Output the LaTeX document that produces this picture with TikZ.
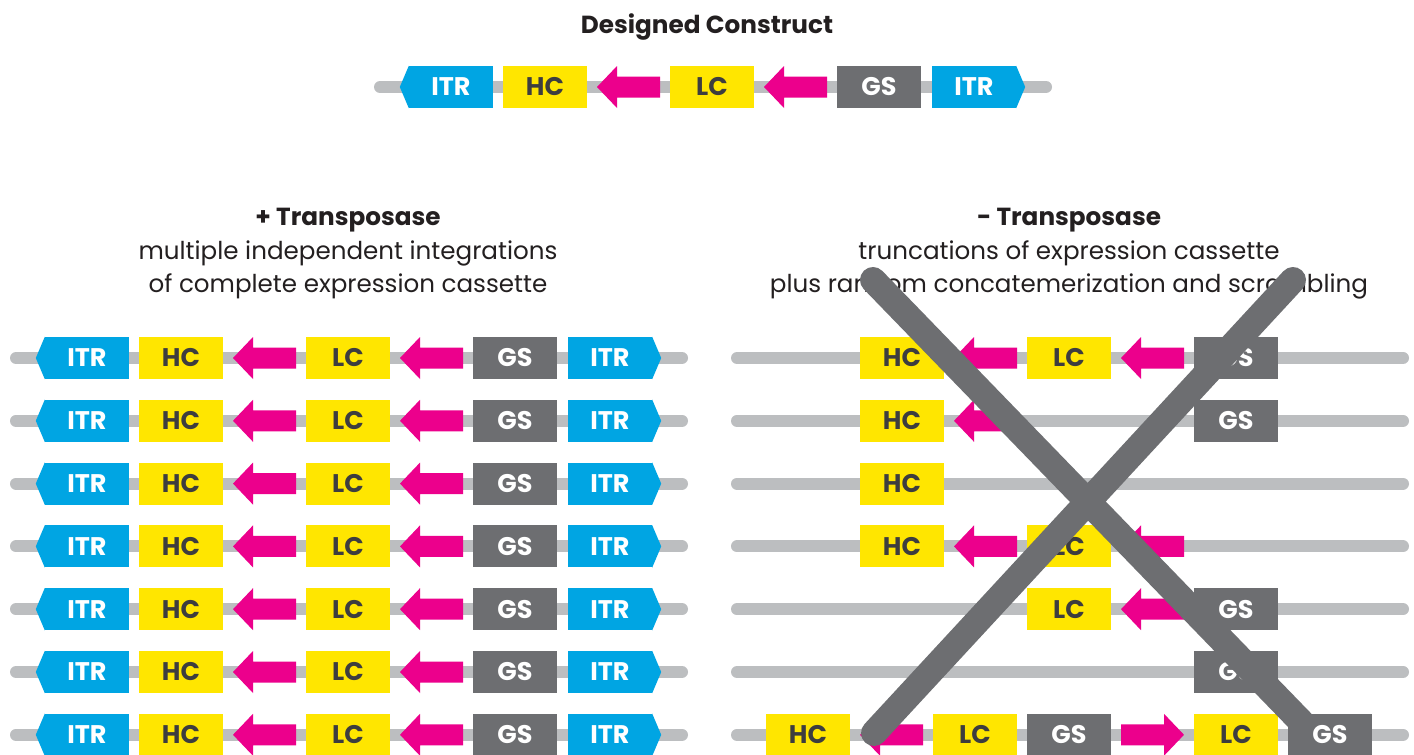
\documentclass[tikz,border=0pt]{standalone}
\usepackage{fontspec}
\setmainfont{Poppins}
\usetikzlibrary{calc}
\definecolor{itrblue}{HTML}{00A5E3}
\definecolor{hcyellow}{HTML}{FFE600}
\definecolor{arrowpink}{HTML}{EC008C}
\definecolor{gsgray}{HTML}{6D6E71}
\definecolor{linegray}{HTML}{BCBEC0}
\definecolor{labeldark}{HTML}{3D3D3F}
\definecolor{txt}{HTML}{231F20}
\tikzset{
 dna/.style={linegray, line width=12pt, line cap=round},
 box/.style={minimum width=84pt, minimum height=42pt, inner sep=0pt, font=\fontsize{25.5}{25.5}\selectfont\bfseries},
 hcbox/.style={box, fill=hcyellow, text=labeldark},
 gsbox/.style={box, fill=gsgray, text=white},
 itrbox/.style={box, fill=itrblue, text=white},
 pics/larrow/.style={code={\fill[arrowpink] (-31.5,0) -- (-11.5,21) -- (-11.5,10.5) -- (31.5,10.5) -- (31.5,-10.5) -- (-11.5,-10.5) -- (-11.5,-21) -- cycle;}},
 pics/rarrow/.style={code={\fill[arrowpink] (31.5,0) -- (11.5,21) -- (11.5,10.5) -- (-31.5,10.5) -- (-31.5,-10.5) -- (11.5,-10.5) -- (11.5,-21) -- cycle;}},
 cross/.style={gsgray, line width=26pt, line cap=round},
 headtxt/.style={font=\fontsize{24.7}{24.7}\selectfont\bfseries, text=txt},
 subtxt/.style={font=\fontsize{24.6}{33}\selectfont, text=txt, align=center},
}
\newcommand\fullrow[3]{%
 \coordinate (#3-a) at (#1+16,#2);
 \coordinate (#3-b) at (#1+682,#2);
 \draw[dna] (#3-a) -- (#3-b);
 \node[itrbox] (#3-itrl) at (#1+87,#2) {ITR};
 \fill[itrblue] (#3-itrl.north west) -- ($(#3-itrl.west)+(-9,0)$) -- (#3-itrl.south west) -- cycle;
 \node[hcbox] (#3-hc) at (#1+181,#2) {HC};
 \pic at (#1+264.5,#2) {larrow};
 \node[hcbox] (#3-lc) at (#1+348,#2) {LC};
 \pic at (#1+431.5,#2) {larrow};
 \node[gsbox] (#3-gs) at (#1+515,#2) {GS};
 \node[itrbox] (#3-itrr) at (#1+610,#2) {ITR};
 \fill[itrblue] (#3-itrr.north east) -- ($(#3-itrr.east)+(9,0)$) -- (#3-itrr.south east) -- cycle;
}
\begin{document}
\begin{tikzpicture}[x=1pt,y=-1pt]
\useasboundingbox (0,0) rectangle (1414,755);
\fill[white] (0,0) rectangle (1414,755);
% titles
\node[headtxt] (title) at (707,27) {Designed Construct};
\node[headtxt] (plus) at (348,220) {+ Transposase};
\node[subtxt] (plussub) at (348,270) {multiple independent integrations\\of complete expression cassette};
\node[headtxt] (minus) at (1069,220) {- Transposase};
\node[subtxt] (minussub) at (1069,270) {truncations of expression cassette\\plus random concatemerization and scrambling};
% designed construct
\fullrow{364}{87}{T}
% left rows
\foreach \i in {0,...,6}{
 \pgfmathsetmacro\yy{358+62.8*\i}
 \fullrow{0}{\yy}{L\i}
}
% right rows backbones
\foreach \i in {0,...,6}{
 \pgfmathsetmacro\yy{358+62.8*\i}
 \coordinate (R\i-a) at (737,\yy);
 \coordinate (R\i-b) at (1403,\yy);
 \draw[dna] (R\i-a) -- (R\i-b);
}
% row 0
\node[hcbox] (R0-hc) at (902,358) {HC};
\pic at (985.5,358) {larrow};
\node[hcbox] (R0-lc) at (1069,358) {LC};
\pic at (1152.5,358) {larrow};
\node[gsbox] (R0-gs) at (1236,358) {GS};
% row 1
\node[hcbox] (R1-hc) at (902,420.8) {HC};
\pic at (985.5,420.8) {larrow};
\node[gsbox] (R1-gs) at (1236,420.8) {GS};
% row 2
\node[hcbox] (R2-hc) at (902,483.6) {HC};
% row 3
\node[hcbox] (R3-hc) at (902,546.4) {HC};
\pic at (985.5,546.4) {larrow};
\node[hcbox] (R3-lc) at (1069,546.4) {LC};
\pic at (1152.5,546.4) {larrow};
% row 4
\node[hcbox] (R4-lc) at (1069,609.2) {LC};
\pic at (1152.5,609.2) {larrow};
\node[gsbox] (R4-gs) at (1236,609.2) {GS};
% row 5
\node[gsbox] (R5-gs) at (1236,672) {GS};
% row 6
\node[hcbox] (R6-hc) at (808,734.8) {HC};
\pic at (891.5,734.8) {larrow};
\node[hcbox] (R6-lc1) at (975,734.8) {LC};
\node[gsbox] (R6-gs1) at (1069,734.8) {GS};
\pic at (1152.5,734.8) {rarrow};
\node[hcbox] (R6-lc2) at (1236,734.8) {LC};
% cross
\coordinate (xa1) at (873,280);
\coordinate (xa2) at (1312,733);
\coordinate (xb1) at (1293,280);
\coordinate (xb2) at (874,733);
\draw[cross] (xa1) -- (xa2);
\draw[cross] (xb1) -- (xb2);
\node[gsbox] (R6-gs2) at (1330,734.8) {GS};
\end{tikzpicture}
\end{document}
